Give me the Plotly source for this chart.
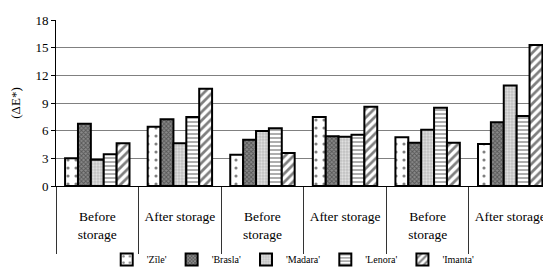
import plotly.graph_objects as go

categories = ["Before<br>storage", "After storage", "Before<br>storage", "After storage", "Before<br>storage", "After storage"]
cat_ids = ["c1", "c2", "c3", "c4", "c5", "c6"]
zile = [3.0, 6.43, 3.4, 7.48, 5.28, 4.55]
brasla = [6.76, 7.23, 5.02, 5.39, 4.7, 6.9]
madara = [2.85, 4.63, 5.96, 5.35, 6.1, 10.9]
lenora = [3.43, 7.48, 6.25, 5.57, 8.49, 7.59]
imanta = [4.63, 10.55, 3.58, 8.6, 4.7, 15.29]
series_names = ["'Zīle'", "'Brasla'", "'Madara'", "'Lenora'", "'Imanta'"]
yticks = [0, 3, 6, 9, 12, 15, 18]

patterns = [
    dict(shape=".", bgcolor="white", fgcolor="black", size=8, solidity=0.12),
    dict(shape="x", bgcolor="#8a8a8a", fgcolor="#222222", size=3, solidity=0.5),
    dict(shape=".", bgcolor="#c0c0c0", fgcolor="white", size=3, solidity=0.45),
    dict(shape="-", bgcolor="white", fgcolor="#333333", size=4, solidity=0.4),
    dict(shape="/", bgcolor="white", fgcolor="black", size=6, solidity=0.45),
]

fig = go.Figure()
for name, vals, pat in zip(series_names, [zile, brasla, madara, lenora, imanta], patterns):
    fig.add_trace(go.Bar(
        x=cat_ids, y=vals, name=name,
        marker=dict(color="white", line=dict(color="black", width=2), pattern=pat),
    ))

font_family = "Liberation Serif, Times New Roman, serif"
fig.update_layout(
    width=543, height=274,
    margin=dict(l=56, r=0, t=20, b=88),
    paper_bgcolor="white", plot_bgcolor="white",
    barmode="group", bargap=0.22, bargroupgap=0,
    font=dict(family=font_family, size=13, color="black"),
    showlegend=True,
    legend=dict(orientation="h", xref="container", x=0.54, xanchor="center",
                yref="container", y=0.0, yanchor="bottom", valign="middle",
                font=dict(size=10, family=font_family), itemwidth=30,
                tracegroupgap=0, bgcolor="rgba(0,0,0,0)"),
    xaxis=dict(
        type="category", tickmode="array", tickvals=cat_ids, ticktext=categories,
        range=[-0.5, 5.397], showgrid=False, showline=True, linecolor="black", linewidth=1,
        ticks="outside", tickson="boundaries", ticklen=67, tickcolor="#333333", tickwidth=1,
        ticklabelstandoff=18, tickfont=dict(size=13.5, family=font_family),
        zeroline=False, automargin=False,
    ),
    yaxis=dict(
        range=[0, 18], tickvals=yticks, showgrid=True, gridcolor="#808080", gridwidth=1,
        showline=True, linecolor="black", linewidth=1, ticks="outside", ticklen=4,
        tickcolor="black", zeroline=False, tickfont=dict(size=13, family=font_family),
        automargin=False,
        title=dict(text="(ΔE*)", standoff=11, font=dict(size=13, family=font_family)),
    ),
)
fig.write_html("out.html", config={"displayModeBar": False, "staticPlot": True},
               post_script="document.body.style.margin='0';document.body.style.overflow='hidden';")
